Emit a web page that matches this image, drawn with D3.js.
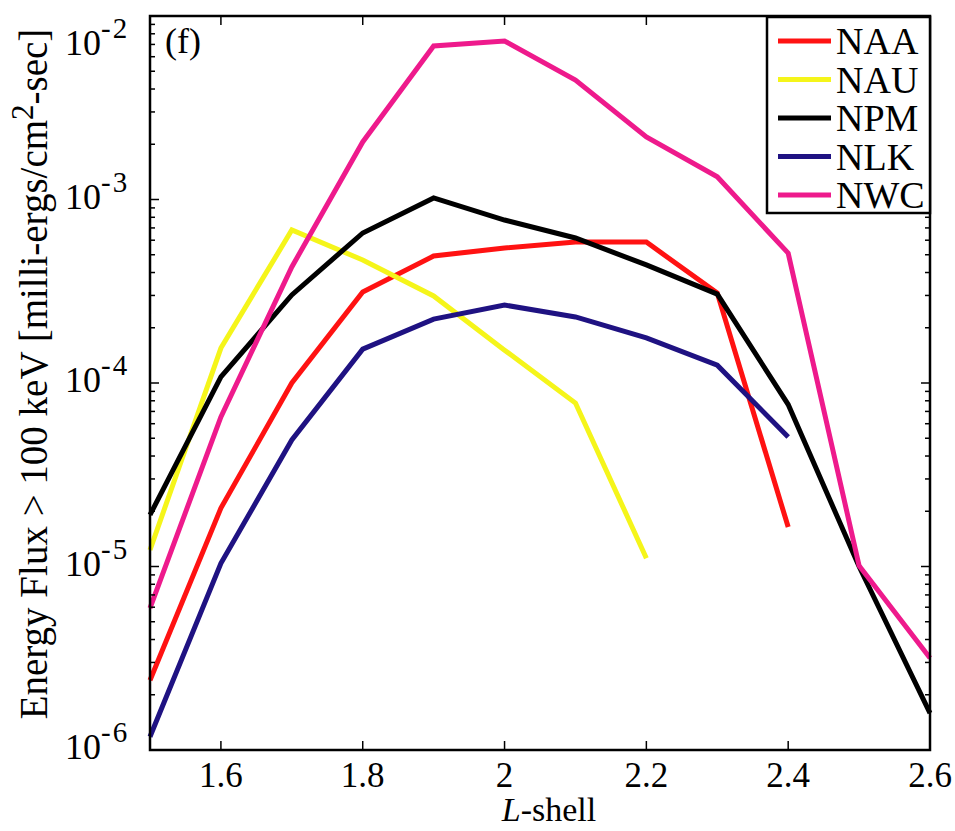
<!DOCTYPE html>
<html><head><meta charset="utf-8">
<script src="https://cdn.jsdelivr.net/npm/d3@7/dist/d3.min.js"></script>
<style>
html,body{margin:0;padding:0;background:#fff;}
</style></head>
<body>
<svg id="chart" width="955" height="831"></svg>
<script>
const lshell = [1.5,1.6,1.7,1.8,1.9,2.0,2.1,2.2,2.3,2.4,2.5,2.6];
const NAA = [2.4e-6,2.08e-5,1.0e-4,3.13e-4,4.92e-4,5.44e-4,5.86e-4,5.86e-4,3.09e-4,1.64e-5,null,null];
const NAU = [1.23e-5,1.55e-4,6.82e-4,4.68e-4,2.98e-4,1.51e-4,7.78e-5,1.11e-5,null,null,null,null];
const NPM = [1.91e-5,1.08e-4,3.02e-4,6.57e-4,1.02e-3,7.73e-4,6.17e-4,4.40e-4,3.05e-4,7.63e-5,1.0e-5,1.59e-6];
const NLK = [1.18e-6,1.04e-5,4.89e-5,1.53e-4,2.23e-4,2.66e-4,2.29e-4,1.76e-4,1.25e-4,5.08e-5,null,null];
const NWC = [5.94e-6,6.53e-5,4.29e-4,2.06e-3,6.87e-3,7.31e-3,4.48e-3,2.19e-3,1.33e-3,5.1e-4,1.01e-5,3.17e-6];
const seriesNames = ["NAA","NAU","NPM","NLK","NWC"];
const seriesColors = ["#ff1212","#f5f51a","#000000","#1f1282","#ee1a8c"];
const xTicks = [1.6,1.8,2.0,2.2,2.4,2.6];
const xTickLabels = ["1.6","1.8","2","2.2","2.4","2.6"];
const yTickExps = [-2,-3,-4,-5,-6];
const xTitleItalic = "L", xTitleRest = "-shell";
const yTitleMain = "Energy Flux > 100 keV [milli-ergs/cm", yTitleSup = "2", yTitleEnd = "-sec]";
const panelLabel = "(f)";

const FONT = "'Liberation Serif', Tinos, 'Times New Roman', Times, serif";
const allSeries = [NAA,NAU,NPM,NLK,NWC];
const svg = d3.select("#chart").attr("font-family", FONT);
const L = 150, R = 930, T = 16, B = 750;
const x = d3.scaleLinear().domain([1.5,2.6]).range([L,R]);
const y = d3.scaleLog().domain([1e-6,1e-2]).range([B,T]);

const line = d3.line().defined(d=>d[1]!=null).x(d=>x(d[0])).y(d=>y(d[1]));
allSeries.forEach((s,i)=>{
  svg.append("path").datum(lshell.map((l,j)=>[l,s[j]]))
    .attr("d",line).attr("fill","none").attr("stroke",seriesColors[i])
    .attr("stroke-width",5).attr("stroke-linejoin","miter").attr("stroke-linecap","butt");
});

const g = svg.append("g").attr("stroke","#000").attr("stroke-width",1.5);
xTicks.forEach(t=>{
  g.append("line").attr("x1",x(t)).attr("x2",x(t)).attr("y1",B).attr("y2",B-9);
  g.append("line").attr("x1",x(t)).attr("x2",x(t)).attr("y1",T).attr("y2",T+9);
});
const minor = [];
for (let e=-6;e<-2;e++) for (let m=2;m<=9;m++) minor.push(m*Math.pow(10,e));
minor.forEach(v=>{
  g.append("line").attr("x1",L).attr("x2",L+5).attr("y1",y(v)).attr("y2",y(v));
  g.append("line").attr("x1",R).attr("x2",R-5).attr("y1",y(v)).attr("y2",y(v));
});
yTickExps.forEach(e=>{
  const v=Math.pow(10,e);
  g.append("line").attr("x1",L).attr("x2",L+9).attr("y1",y(v)).attr("y2",y(v));
  g.append("line").attr("x1",R).attr("x2",R-9).attr("y1",y(v)).attr("y2",y(v));
});

svg.append("rect").attr("x",L).attr("y",T).attr("width",R-L).attr("height",B-T)
  .attr("fill","none").attr("stroke","#000").attr("stroke-width",2.5);

xTicks.forEach((t,i)=>{
  svg.append("text").attr("x",x(t)).attr("y",B+37).attr("text-anchor","middle")
    .attr("font-size",35).text(xTickLabels[i]);
});
yTickExps.forEach(e=>{
  const yy = Math.max(y(Math.pow(10,e))+9, 55);
  svg.append("text").attr("x",101).attr("y",yy).attr("text-anchor","end").attr("font-size",36).text("10");
  svg.append("text").attr("x",101).attr("y",yy-17).attr("text-anchor","start").attr("font-size",29)
    .attr("letter-spacing",2).text(String(e));
});

const xt = svg.append("text").attr("x",549).attr("y",821).attr("text-anchor","middle").attr("font-size",34);
xt.append("tspan").attr("font-style","italic").text(xTitleItalic);
xt.append("tspan").text(xTitleRest);

const yt = svg.append("text").attr("transform","translate(47,374) rotate(-90)")
  .attr("text-anchor","middle").attr("font-size",39);
yt.append("tspan").text(yTitleMain);
yt.append("tspan").attr("dy",-14).attr("font-size",31).text(yTitleSup);
yt.append("tspan").attr("dy",14).text(yTitleEnd);

svg.append("text").attr("x",165).attr("y",53).attr("font-size",36).text(panelLabel);

const lg = svg.append("g");
lg.append("rect").attr("x",767).attr("y",17).attr("width",163).attr("height",196)
  .attr("fill","#fff").attr("stroke","#000").attr("stroke-width",2.5);
seriesNames.forEach((n,i)=>{
  const ry = 41 + i*38.5;
  lg.append("line").attr("x1",778).attr("x2",831).attr("y1",ry).attr("y2",ry)
    .attr("stroke",seriesColors[i]).attr("stroke-width",5);
  lg.append("text").attr("x",836).attr("y",ry+13).attr("font-size",38).text(n);
});
</script>
</body></html>
